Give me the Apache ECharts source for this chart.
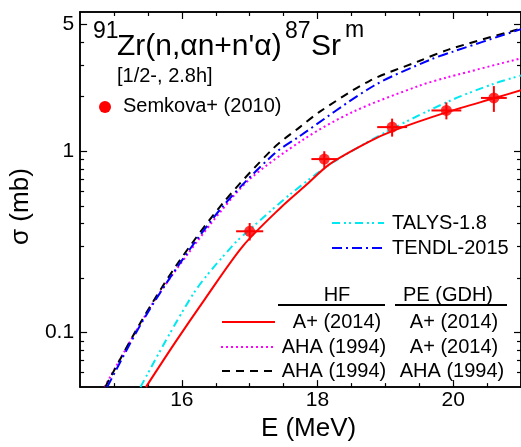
<!DOCTYPE html>
<html>
<head>
<meta charset="utf-8">
<script src="https://cdn.jsdelivr.net/npm/echarts@6/dist/echarts.min.js"></script>
<style>
html,body{margin:0;padding:0;background:#fff;}
#c{width:521px;height:447px;}
</style>
</head>
<body>
<div id="c"></div>
<script>
// ---- data (E in MeV, sigma in mb) ----
const RED_E = [15.47, 15.9, 16.34, 16.9, 17.46, 17.82, 18.18, 18.74, 19.12, 19.9, 20.64, 21.0];
const RED_V = [0.05, 0.088, 0.153, 0.30, 0.49, 0.645, 0.85, 1.12, 1.30, 1.64, 1.98, 2.17];

const CYAN_E = [15.39, 16.18, 16.76, 17.0, 17.6, 18.23, 19.1, 19.98, 20.63, 21.0];
const CYAN_V = [0.05, 0.166, 0.305, 0.37, 0.58, 0.87, 1.33, 1.92, 2.38, 2.62];

const MAG_E = [14.86, 15.55, 16.09, 16.57, 17.01, 17.79, 18.52, 19.5, 19.9, 21.0];
const MAG_V = [0.05, 0.141, 0.272, 0.464, 0.707, 1.16, 1.65, 2.3, 2.55, 3.26];

const BLK_E = [14.87, 15.4, 15.94, 16.61, 17.35, 17.74, 18.04, 18.77, 19.5, 19.94, 20.86, 21.0];
const BLK_V = [0.05, 0.115, 0.241, 0.52, 1.04, 1.36, 1.66, 2.45, 3.15, 3.65, 4.6, 4.75];

const BLU_E = [14.9, 15.4, 15.94, 16.61, 17.35, 17.72, 18.83, 19.66, 20.0, 21.0];
const BLU_V = [0.05, 0.112, 0.232, 0.50, 0.96, 1.2, 2.3, 3.2, 3.55, 4.72];

const EXP_E  = [17.0, 18.1, 19.1, 19.9, 20.6];
const EXP_V  = [0.362, 0.906, 1.36, 1.68, 1.97];
const EXP_DE = [0.2, 0.19, 0.22, 0.22, 0.19];
const EXP_DV = [0.04, 0.095, 0.155, 0.18, 0.32];

const X_LABELS = [16, 18, 20];
const X_MINOR = [15, 15.5, 16.5, 17, 17.5, 18.5, 19, 19.5, 20.5, 21];
const Y_LABELS = [0.1, 1, 5];
const Y_MINOR = [0.06, 0.07, 0.08, 0.09, 0.2, 0.3, 0.4, 0.5, 0.6, 0.7, 0.8, 0.9, 2, 3, 4];

const FONT = '"Liberation Sans", Arial, sans-serif';

function pairs(xs, ys) { return xs.map((x, i) => [x, ys[i]]); }

const chart = echarts.init(document.getElementById('c'), null, {renderer: 'canvas'});

const axisLine = {show: true, lineStyle: {color: '#000', width: 1.5}};
const XMIN = 14.5, XMAX = 21, YMIN = 0.05, YMAX = 5.87;

function xAx(pos, major, labels, extra) {
  return Object.assign({
    type: 'value', min: XMIN, max: XMAX, position: pos, gridIndex: 0,
    axisLine: axisLine,
    axisTick: {show: true, inside: true, length: major ? 7 : 4, lineStyle: {color: '#000', width: 1.2},
      customValues: major ? X_LABELS : X_MINOR},
    axisLabel: labels ? {show: true, customValues: X_LABELS, fontFamily: FONT, fontSize: 21, color: '#000', margin: 3} : {show: false},
    splitLine: {show: false}
  }, extra || {});
}
function yAx(pos, major, labels, extra) {
  return Object.assign({
    type: 'log', logBase: 10, min: YMIN, max: YMAX, position: pos, gridIndex: 0,
    axisLine: axisLine,
    axisTick: {show: true, inside: true, length: major ? 7 : 4, lineStyle: {color: '#000', width: 1.2},
      customValues: major ? Y_LABELS : Y_MINOR},
    axisLabel: labels ? {show: true, customValues: Y_LABELS, fontFamily: FONT, fontSize: 21, color: '#000', margin: 6,
      formatter: v => String(+(+v).toPrecision(3))} : {show: false},
    splitLine: {show: false}
  }, extra || {});
}

const lineSeries = (name, xs, ys, color, type, width) => ({
  name: name, type: 'line', xAxisIndex: 0, yAxisIndex: 0,
  data: pairs(xs, ys), showSymbol: false, smooth: 0.3,
  lineStyle: {color: color, width: width || 2, type: type, cap: 'butt'},
  clip: true, z: 3, silent: true
});

const option = {
  animation: false,
  backgroundColor: '#fff',
  grid: {left: 78, top: 12, width: 444, height: 384, containLabel: false},
  xAxis: [
    xAx('bottom', true, true, {name: 'E (MeV)', nameLocation: 'middle', nameGap: 26,
      nameTextStyle: {fontFamily: FONT, fontSize: 26, color: '#000', padding: [0, 0, 0, 16]}}),
    xAx('bottom', false, false),
    xAx('top', true, false),
    xAx('top', false, false)
  ],
  yAxis: [
    yAx('left', true, true, {name: 'σ (mb)', nameLocation: 'middle', nameGap: 30, nameRotate: 90,
      nameTextStyle: {fontFamily: FONT, fontSize: 26, color: '#000', padding: [0, 14, 0, 0]}}),
    yAx('left', false, false),
    yAx('right', true, false),
    yAx('right', false, false)
  ],
  series: [
    lineSeries('AHA/A+', MAG_E, MAG_V, '#ff00ff', [2, 3], 2),
    lineSeries('AHA/AHA', BLK_E, BLK_V, '#000000', [8, 6], 2),
    lineSeries('TENDL-2015', BLU_E, BLU_V, '#0000ff', [10, 4, 2, 4], 2),
    lineSeries('TALYS-1.8', CYAN_E, CYAN_V, '#00e8f0', [8, 4, 2, 3, 2, 4], 2),
    lineSeries('A+/A+', RED_E, RED_V, '#ff0000', 'solid', 2),
    {
      name: 'err', type: 'custom', xAxisIndex: 0, yAxisIndex: 0,
      data: EXP_E.map((e, i) => [e, EXP_V[i], EXP_DE[i], EXP_V[i] - EXP_DV[i], EXP_V[i] + EXP_DV[i]]),
      encode: {x: 0, y: 1},
      renderItem: function (params, api) {
        const e = api.value(0), v = api.value(1), de = api.value(2), lo = api.value(3), hi = api.value(4);
        const l = api.coord([e - de, v]), r = api.coord([e + de, v]);
        const b = api.coord([e, lo]), t = api.coord([e, hi]);
        const st = {stroke: '#ff0000', lineWidth: 2};
        return {type: 'group', children: [
          {type: 'line', shape: {x1: l[0], y1: l[1], x2: r[0], y2: r[1]}, style: st},
          {type: 'line', shape: {x1: b[0], y1: b[1], x2: t[0], y2: t[1]}, style: st}
        ]};
      },
      z: 4, silent: true
    },
    {
      name: 'Semkova+ (2010)', type: 'scatter', xAxisIndex: 0, yAxisIndex: 0,
      data: pairs(EXP_E, EXP_V), symbol: 'circle', symbolSize: 11,
      itemStyle: {color: '#ff0000'}, z: 5, silent: true
    }
  ],
  graphic: [
    // title
    {type: 'text', x: 93, y: 32, style: {text: '91', font: '23px ' + FONT, fill: '#000', verticalAlign: 'middle'}},
    {type: 'text', x: 117, y: 47, style: {text: "Zr(n,αn+n'α)", font: '30px ' + FONT, fill: '#000', verticalAlign: 'middle'}},
    {type: 'text', x: 285, y: 32, style: {text: '87', font: '23px ' + FONT, fill: '#000', verticalAlign: 'middle'}},
    {type: 'text', x: 311, y: 47, style: {text: 'Sr', font: '30px ' + FONT, fill: '#000', verticalAlign: 'middle'}},
    {type: 'text', x: 345, y: 31, style: {text: 'm', font: '23px ' + FONT, fill: '#000', verticalAlign: 'middle'}},
    {type: 'text', x: 117, y: 76, style: {text: '[1/2-, 2.8h]', font: '20px ' + FONT, fill: '#000', verticalAlign: 'middle'}},
    // Semkova legend
    {type: 'circle', shape: {cx: 105, cy: 107, r: 6}, style: {fill: '#ff0000'}},
    {type: 'text', x: 123, y: 106, style: {text: 'Semkova+ (2010)', font: '20px ' + FONT, fill: '#000', verticalAlign: 'middle'}},
    // TALYS / TENDL legend
    {type: 'line', shape: {x1: 332, y1: 223, x2: 384, y2: 223}, style: {stroke: '#00e8f0', lineWidth: 2, lineDash: [8, 4, 2, 3, 2, 4]}},
    {type: 'text', x: 392, y: 223, style: {text: 'TALYS-1.8', font: '20px ' + FONT, fill: '#000', verticalAlign: 'middle'}},
    {type: 'line', shape: {x1: 332, y1: 248, x2: 384, y2: 248}, style: {stroke: '#0000ff', lineWidth: 2, lineDash: [10, 4, 2, 4]}},
    {type: 'text', x: 392, y: 248, style: {text: 'TENDL-2015', font: '20px ' + FONT, fill: '#000', verticalAlign: 'middle'}},
    // table header
    {type: 'text', x: 337, y: 295, style: {text: 'HF', font: '20px ' + FONT, fill: '#000', align: 'center', verticalAlign: 'middle'}},
    {type: 'text', x: 448, y: 295, style: {text: 'PE (GDH)', font: '20px ' + FONT, fill: '#000', align: 'center', verticalAlign: 'middle'}},
    {type: 'line', shape: {x1: 278, y1: 305, x2: 385, y2: 305}, style: {stroke: '#000', lineWidth: 2}},
    {type: 'line', shape: {x1: 395, y1: 305, x2: 507, y2: 305}, style: {stroke: '#000', lineWidth: 2}},
    // rows
    {type: 'line', shape: {x1: 222, y1: 322, x2: 275, y2: 322}, style: {stroke: '#ff0000', lineWidth: 2}},
    {type: 'text', x: 337, y: 322, style: {text: 'A+ (2014)', font: '20px ' + FONT, fill: '#000', align: 'center', verticalAlign: 'middle'}},
    {type: 'text', x: 454, y: 322, style: {text: 'A+ (2014)', font: '20px ' + FONT, fill: '#000', align: 'center', verticalAlign: 'middle'}},
    {type: 'line', shape: {x1: 221, y1: 347, x2: 275, y2: 347}, style: {stroke: '#ff00ff', lineWidth: 2, lineDash: [2, 3]}},
    {type: 'text', x: 334, y: 347, style: {text: 'AHA (1994)', font: '20px ' + FONT, fill: '#000', align: 'center', verticalAlign: 'middle'}},
    {type: 'text', x: 454, y: 347, style: {text: 'A+ (2014)', font: '20px ' + FONT, fill: '#000', align: 'center', verticalAlign: 'middle'}},
    {type: 'line', shape: {x1: 222, y1: 371, x2: 276, y2: 371}, style: {stroke: '#000', lineWidth: 2, lineDash: [8, 6]}},
    {type: 'text', x: 334, y: 371, style: {text: 'AHA (1994)', font: '20px ' + FONT, fill: '#000', align: 'center', verticalAlign: 'middle'}},
    {type: 'text', x: 452, y: 371, style: {text: 'AHA (1994)', font: '20px ' + FONT, fill: '#000', align: 'center', verticalAlign: 'middle'}}
  ]
};
chart.setOption(option);
</script>
</body>
</html>
